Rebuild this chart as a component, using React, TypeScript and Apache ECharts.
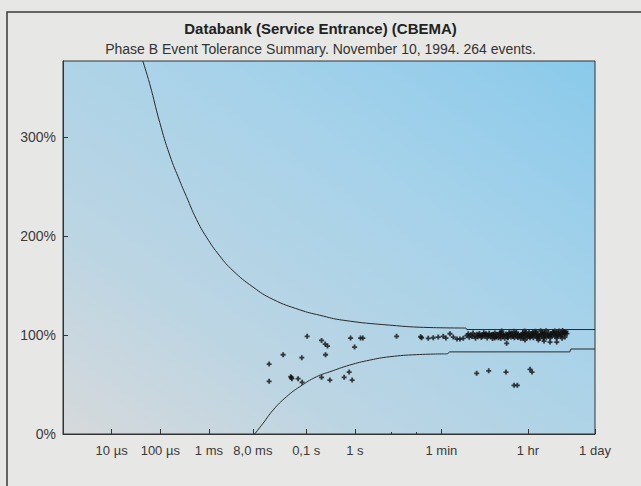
import React, { useEffect, useRef } from 'react';
import * as echarts from 'echarts';

// Axis ticks (duration in seconds, plotted on a log10 scale)
const xTickSeconds = [0.00001, 0.0001, 0.001, 0.008, 0.1, 1, 60, 3600, 86400];
const xTickLabels = ['10 µs', '100 µs', '1 ms', '8,0 ms', '0,1 s', '1 s', '1 min', '1 hr', '1 day'];
const xMinorTickSeconds = [5.5, 18];
const xMinSeconds = 0.000001;
const xMaxSeconds = 86400;
const yTicks = [0, 100, 200, 300];
const yMax = 377;

// CBEMA upper tolerance curve (log10 seconds, % of nominal)
const upperCurveLogSec = [-4.36, -4.218, -4.012, -3.807, -3.601, -3.463, -3.257, -3.051, -2.778, -2.504, -2.093, -1.681, -1.132, -0.72, -0.241, 0.72, 1.543, 2.284];
const upperCurvePct = [377, 354, 315, 282, 256, 240, 217, 199, 180, 165, 148.5, 136, 125.5, 120, 115, 110, 107.6, 107.1];
const upperStepLogSec = [2.284, 2.3, 4.937];
const upperStepPct = [107.1, 105.6, 105.6];

// CBEMA lower tolerance curve
const lowerCurveLogSec = [-2.06, -1.887, -1.681, -1.405, -1.132, -0.788, -0.514, -0.103, 0.309, 0.72, 1.27, 1.9];
const lowerCurvePct = [0, 10.8, 24.2, 37.7, 47.8, 57.9, 62.9, 69.7, 74.7, 78.1, 80.2, 81.0];
const lowerStepLogSec = [1.9, 1.95, 4.42, 4.44, 4.937];
const lowerStepPct = [81.0, 83.0, 83.0, 85.9, 85.9];

// Scattered events
const sparseLogSec = [-1.763, -1.763, -1.475, -1.317, -1.296, -1.307, -1.167, -1.084, -1.091, -0.981, -0.685, -0.611, -0.562, -0.603, -0.685, -0.514, -0.22, -0.117, -0.056, -0.088, -0.006, 0.117, 0.165, 0.858, 1.352, 2.504, 2.751, 3.107, 3.601, 3.642, 3.272, 3.34, 3.121, 3.772, 4.012, 4.15, 3.889, 3.498];
const sparsePct = [70.7, 53.2, 80.1, 57.9, 55.9, 57.1, 55.9, 52.2, 77.1, 98.7, 94.6, 90.9, 88.9, 80.1, 57.3, 54.5, 57.3, 62.6, 54.5, 97.0, 87.9, 97.0, 97.0, 98.7, 98.3, 61.3, 63.9, 62.6, 65.4, 62.6, 49.2, 49.2, 91.6, 94.9, 92.9, 92.9, 93.9, 94.9];

// Dense band of events near 100 %
const bandLogSec = [1.372, 1.508, 1.611, 1.714, 1.817, 1.872, 1.955, 2.023, 2.099, 2.16, 2.228,
  2.30, 2.33, 2.35, 2.38, 2.41, 2.43, 2.46, 2.48, 2.51, 2.53, 2.56, 2.58, 2.60, 2.63, 2.65, 2.67, 2.70, 2.72, 2.74, 2.76,
  2.79, 2.81, 2.83, 2.86, 2.88, 2.90, 2.92, 2.95, 2.97, 2.99, 3.01, 3.04, 3.06, 3.08, 3.10, 3.12, 3.15, 3.17, 3.19, 3.21,
  3.23, 3.26, 3.28, 3.30, 3.32, 3.34, 3.36, 3.39, 3.41, 3.43, 3.45, 3.47, 3.50, 3.52, 3.54, 3.56, 3.58, 3.61, 3.63, 3.65,
  3.67, 3.69, 3.72, 3.74, 3.76, 3.78, 3.80, 3.83, 3.85, 3.87, 3.89, 3.91, 3.94, 3.96, 3.98, 4.00, 4.03, 4.05, 4.07, 4.09,
  4.12, 4.14, 4.16, 4.18, 4.21, 4.23, 4.25, 4.28, 4.30, 4.33, 4.36,
  3.02, 3.27, 3.49, 3.71, 3.93, 4.11, 4.27, 4.20, 4.34, 3.82,
  2.55, 2.62, 2.69, 2.77, 2.84, 2.91, 2.98, 3.05, 3.13, 3.20, 3.25, 3.31, 3.38, 3.44, 3.51, 3.57, 3.64, 3.70, 3.77, 3.84,
  3.90, 3.97, 4.04, 4.10, 4.17, 4.24, 4.31, 2.87, 3.00, 3.14, 3.35, 3.46, 3.60, 3.75, 3.88, 4.02, 4.15, 4.26, 4.32, 3.66];
const bandPct = [97.3, 96.7, 97.3, 98.0, 98.7, 97.0, 101.3, 98.0, 96.0, 96.0, 96.7,
  99.5, 101.2, 97.8, 100.4, 98.6, 102.0, 99.1, 96.9, 100.8, 98.2, 101.5, 99.7, 97.5, 100.2, 102.3, 98.8, 100.9, 97.1, 99.4, 101.8,
  98.3, 100.5, 96.6, 99.9, 102.1, 98.0, 100.7, 97.4, 101.3, 99.2, 102.6, 98.5, 100.1, 96.8, 101.0, 99.6, 97.9, 102.4, 100.3, 98.1,
  101.6, 99.0, 97.2, 100.6, 102.8, 98.7, 101.1, 99.3, 96.5, 100.0, 102.2, 98.4, 101.4, 99.8, 97.6, 100.9, 103.0, 98.9, 101.7, 99.5,
  97.3, 100.4, 102.5, 98.6, 101.2, 99.1, 96.9, 100.8, 102.9, 98.2, 101.5, 99.7, 97.8, 100.3, 102.7, 98.8, 101.0, 99.4, 103.1, 100.6,
  98.3, 101.9, 99.9, 102.4, 100.2, 98.6, 101.3, 103.2, 100.7, 102.0, 101.4,
  104.0, 103.8, 104.2, 103.9, 104.4, 104.1, 104.6, 104.0, 103.6, 104.3,
  100.1, 98.9, 101.4, 99.6, 100.9, 98.4, 101.8, 99.8, 100.5, 102.0, 98.9, 101.0, 99.5, 100.8, 102.1, 98.6, 100.2, 101.6, 99.0, 100.6,
  102.3, 99.4, 100.9, 101.8, 99.2, 100.5, 102.5, 97.0, 96.8, 97.2, 97.5, 96.9, 97.4, 97.1, 96.6, 97.3, 97.0, 96.7, 98.0, 102.9];

const FONT = '"Liberation Sans", Arial, Helvetica, sans-serif';
const PLUS = 'path://M1.6,0H3.4V1.6H5V3.4H3.4V5H1.6V3.4H0V1.6H1.6Z';

export default function App() {
  const ref = useRef<HTMLDivElement>(null);
  useEffect(() => {
    if (!ref.current) return;
    const chart = echarts.init(ref.current, undefined, { renderer: 'svg' });
    const tickLog = xTickSeconds.map((s) => Math.log10(s));
    const minorLog = xMinorTickSeconds.map((s) => Math.log10(s));
    const xMin = Math.log10(xMinSeconds);
    const xMax = Math.log10(xMaxSeconds);
    const events = [
      ...sparseLogSec.map((x, i) => [x, sparsePct[i]]),
      ...bandLogSec.map((x, i) => [x, bandPct[i]]),
    ];
    const pairs = (xs: number[], ys: number[]) => xs.map((x, i) => [x, ys[i]]);
    const lineBase = {
      type: 'line',
      showSymbol: false,
      lineStyle: { color: '#2a2a2a', width: 1 },
      silent: true,
    };
    chart.setOption({
      animation: false,
      backgroundColor: '#e7e7e5',
      title: {
        text: 'Databank (Service Entrance) (CBEMA)',
        subtext: 'Phase B Event Tolerance Summary. November 10, 1994. 264 events.',
        left: 'center',
        top: 16,
        itemGap: 6,
        textStyle: { fontFamily: FONT, fontSize: 15, fontWeight: 'bold', color: '#222' },
        subtextStyle: { fontFamily: FONT, fontSize: 14, color: '#333' },
      },
      graphic: [
        {
          type: 'rect',
          silent: true,
          shape: { x: 7, y: 12, width: 700, height: 600 },
          style: { fill: 'none', stroke: '#3a3a3a', lineWidth: 1.5 },
        },
      ],
      grid: {
        left: 63,
        right: 46,
        top: 61,
        bottom: 52,
        show: true,
        borderColor: '#333',
        borderWidth: 1,
        backgroundColor: new echarts.graphic.LinearGradient(0, 1, 1, 0, [
          { offset: 0, color: '#d6d9db' },
          { offset: 0.28, color: '#bcd5e3' },
          { offset: 0.65, color: '#a6d2ea' },
          { offset: 1, color: '#8acaea' },
        ]),
      },
      xAxis: [
        {
          type: 'value',
          min: xMin,
          max: xMax,
          splitLine: { show: false },
          axisLine: { onZero: false, lineStyle: { color: '#333', width: 1 } },
          axisTick: { inside: true, length: 5, customValues: tickLog, lineStyle: { color: '#333' } },
          axisLabel: {
            customValues: tickLog,
            margin: 10,
            fontFamily: FONT,
            fontSize: 13,
            color: '#3a3a3a',
            formatter: (v: number) => {
              const i = tickLog.findIndex((t) => Math.abs(t - v) < 1e-6);
              return i >= 0 ? xTickLabels[i] : '';
            },
          },
        },
        {
          type: 'value',
          position: 'bottom',
          min: xMin,
          max: xMax,
          splitLine: { show: false },
          axisLine: { show: false, onZero: false },
          axisTick: { show: true, inside: true, length: 2, customValues: minorLog, lineStyle: { color: '#333' } },
          axisLabel: { show: false },
        },
      ],
      yAxis: {
        type: 'value',
        min: 0,
        max: yMax,
        splitLine: { show: false },
        axisLine: { show: true, onZero: false, lineStyle: { color: '#333', width: 1 } },
        axisTick: { show: true, inside: true, length: 5, customValues: yTicks, lineStyle: { color: '#333' } },
        axisLabel: {
          customValues: yTicks,
          margin: 7,
          fontFamily: FONT,
          fontSize: 14,
          color: '#3a3a3a',
          formatter: '{value}%',
        },
      },
      series: [
        { ...lineBase, data: pairs(upperCurveLogSec, upperCurvePct), smooth: 0.5 },
        { ...lineBase, data: pairs(upperStepLogSec, upperStepPct) },
        { ...lineBase, data: pairs(lowerCurveLogSec, lowerCurvePct), smooth: 0.5 },
        { ...lineBase, data: pairs(lowerStepLogSec, lowerStepPct) },
        {
          type: 'scatter',
          data: events,
          symbol: PLUS,
          symbolSize: 5,
          itemStyle: { color: '#111' },
        },
      ],
    });
    return () => chart.dispose();
  }, []);
  return (
    <div
      ref={ref}
      style={{ position: 'fixed', left: 0, top: 0, width: 641, height: 486 }}
    />
  );
}
